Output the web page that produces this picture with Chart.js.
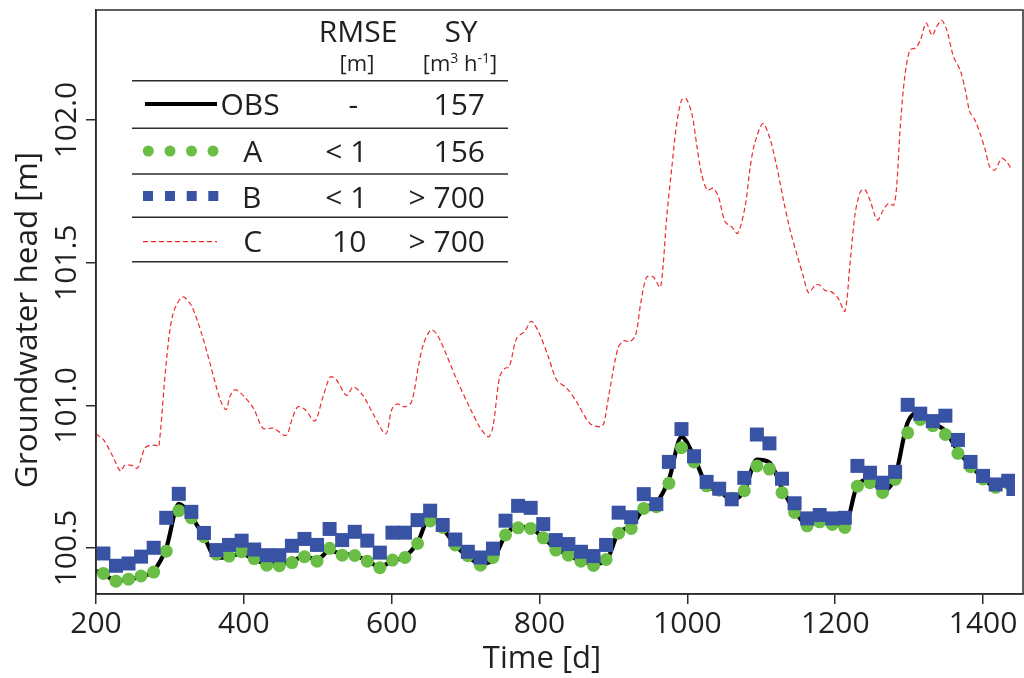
<!DOCTYPE html>
<html><head><meta charset="utf-8">
<script src="https://cdn.jsdelivr.net/npm/chart.js@4.4.1/dist/chart.umd.min.js"></script>
<style>html,body{margin:0;padding:0;background:#fff;overflow:hidden;}canvas{display:block;}</style>
</head><body>
<canvas id="c" width="1024" height="678"></canvas>
<script>
const FONT = '"Open Sans", "Liberation Sans", sans-serif';
const TEXT = '#231f20';

const xTicks = [200, 400, 600, 800, 1000, 1200, 1400];
const yTicks = [100.5, 101.0, 101.5, 102.0];

const markerDays = [210,227,244,261,278,295,312,329,346,363,380,397,414,431,448,465,482,499,516,533,550,567,584,601,618,635,652,669,686,703,720,737,754,771,788,805,822,839,856,873,890,907,924,941,958,975,992,1009,1026,1043,1060,1077,1094,1111,1128,1145,1162,1179,1196,1213,1230,1247,1264,1281,1298,1315,1332,1349,1366,1383,1400,1417,1434,1441];

const seriesA = [100.411,100.384,100.391,100.402,100.416,100.489,100.631,100.606,100.540,100.479,
100.472,100.487,100.463,100.440,100.438,100.449,100.470,100.454,100.499,100.475,
100.474,100.454,100.431,100.458,100.467,100.516,100.595,100.572,100.511,100.473,
100.440,100.467,100.546,100.571,100.569,100.536,100.493,100.475,100.454,100.439,
100.460,100.552,100.569,100.639,100.645,100.727,100.852,100.802,100.718,100.703,
100.675,100.701,100.788,100.777,100.694,100.625,100.578,100.592,100.583,100.572,
100.717,100.729,100.695,100.741,100.904,100.951,100.929,100.898,100.832,100.785,
100.742,100.713,100.727,100.710];

const seriesB = [100.481,100.438,100.446,100.470,100.501,100.606,100.690,100.627,100.553,100.493,
100.511,100.526,100.495,100.475,100.475,100.508,100.532,100.511,100.567,100.528,
100.557,100.526,100.484,100.554,100.554,100.598,100.631,100.581,100.530,100.487,
100.467,100.498,100.596,100.648,100.641,100.584,100.528,100.514,100.487,100.472,
100.511,100.624,100.608,100.689,100.654,100.802,100.917,100.822,100.732,100.708,
100.671,100.746,100.898,100.867,100.743,100.657,100.604,100.616,100.604,100.606,
100.788,100.764,100.729,100.767,101.002,100.971,100.945,100.964,100.879,100.802,
100.753,100.723,100.736,100.707];

const obsDays = [200,210,227,244,261,278,295,312,329,346,363,380,397,414,431,448,465,482,499,516,533,550,567,584,601,618,635,652,669,686,703,720,737,754,771,788,805,822,839,856,873,890,907,924,941,958,975,992,1009,1026,1043,1060,1077,1094,1111,1128,1145,1162,1179,1196,1213,1230,1247,1264,1281,1298,1315,1332,1349,1366,1383,1400,1417,1434,1441];

const obsValues = [100.42,100.41,100.385,100.39,100.40,100.42,100.50,100.655,100.61,100.54,100.465,
100.47,100.48,100.46,100.445,100.445,100.455,100.47,100.46,100.49,100.48,
100.475,100.455,100.435,100.455,100.47,100.52,100.61,100.57,100.51,100.47,
100.445,100.46,100.545,100.575,100.57,100.535,100.50,100.475,100.455,100.445,
100.455,100.555,100.575,100.64,100.66,100.74,100.89,100.82,100.72,100.70,
100.67,100.70,100.81,100.80,100.71,100.63,100.585,100.59,100.585,100.58,
100.72,100.74,100.70,100.75,100.94,100.975,100.94,100.91,100.84,100.79,
100.745,100.715,100.725,100.71];

const cDays = [200,210,223,233,239,248,256,266,273,281,285,295,304,317,329,343,354,368,376,381,388,399,413,426,440,457,465,473,483,496,507,517,525,539,548,561,575,592,600,607,618,627,636,643,653,661,672,688,706,719,731,737,746,753,759,769,780,789,800,812,823,837,850,868,882,887,894,906,914,922,930,937,945,954,963,967,972,979,985,992,998,1006,1013,1019,1027,1035,1042,1051,1060,1068,1078,1085,1091,1102,1111,1121,1130,1139,1149,1157,1164,1173,1179,1186,1195,1204,1213,1220,1227,1234,1240,1247,1257,1265,1272,1279,1283,1288,1294,1301,1309,1315,1323,1331,1337,1344,1351,1360,1369,1376,1382,1389,1396,1403,1409,1416,1425,1432,1439];

const cValues = [100.90,100.88,100.82,100.77,100.79,100.79,100.78,100.85,100.86,100.86,
100.855,101.15,101.32,101.38,101.35,101.25,101.15,101.02,100.985,101.03,
101.055,101.035,100.99,100.92,100.92,100.895,100.95,100.995,100.985,100.945,
101.03,101.10,101.09,101.035,101.065,101.035,100.97,100.90,100.985,101.005,
100.995,101.013,101.135,101.215,101.265,101.25,101.19,101.09,100.99,100.925,
100.89,100.925,101.10,101.13,101.135,101.235,101.26,101.295,101.25,101.17,
101.09,101.06,101.013,100.937,100.925,100.937,101.04,101.20,101.227,101.223,
101.247,101.36,101.45,101.45,101.414,101.486,101.66,101.836,101.977,102.07,
102.076,102.023,101.907,101.813,101.755,101.761,101.731,101.644,101.626,101.603,
101.696,101.836,101.918,101.988,101.941,101.836,101.719,101.614,101.521,101.451,
101.395,101.422,101.422,101.404,101.398,101.375,101.33,101.498,101.673,101.749,
101.757,101.719,101.65,101.685,101.708,101.702,101.766,101.977,102.151,102.245,
102.254,102.279,102.34,102.297,102.326,102.35,102.315,102.222,102.175,102.105,
102.029,102.0,101.953,101.895,101.836,101.825,101.866,101.854,101.825];

const legendNames = ['OBS', 'A', 'B', 'C'];
const legendRMSE = ['-', '< 1', '< 1', '10'];
const legendSY = ['157', '156', '> 700', '> 700'];

const COL_A = '#6abd45', COL_B = '#3953a4', COL_C = '#ee2a2f', COL_OBS = '#000000';

function pts(xs, ys) { return xs.map((x, i) => ({ x: x, y: ys[i] })); }
const clip = { left: 10, top: 10, right: -8, bottom: 10 };

function zeroPad(s) { s.paddingLeft = 0; s.paddingRight = 0; s.paddingTop = 0; s.paddingBottom = 0; }

const deco = {
  id: 'deco',
  afterDraw(chart) {
    const ctx = chart.ctx, a = chart.chartArea;
    ctx.save();
    ctx.strokeStyle = '#2b2b2b';
    ctx.lineWidth = 1.5;
    ctx.strokeRect(a.left, a.top, a.right - a.left, a.bottom - a.top);

    [80.7, 128.3, 174, 217.3, 261.7].forEach(y => {
      ctx.beginPath(); ctx.moveTo(132, y); ctx.lineTo(508, y); ctx.stroke();
    });

    ctx.fillStyle = TEXT;
    ctx.textBaseline = 'alphabetic';
    ctx.textAlign = 'center';
    ctx.font = '30px ' + FONT;
    ctx.fillText('RMSE', 358, 42);
    ctx.fillText('SY', 461, 42);
    ctx.font = '22px ' + FONT;
    ctx.fillText('[m]', 357, 71);
    const parts = [['[m', 22, 0], ['3', 14, -8], [' h', 22, 0], ['-1', 14, -8], [']', 22, 0]];
    let tw = 0;
    parts.forEach(p => { ctx.font = p[1] + 'px ' + FONT; tw += ctx.measureText(p[0]).width; });
    let px = 460 - tw / 2;
    ctx.textAlign = 'left';
    parts.forEach(p => { ctx.font = p[1] + 'px ' + FONT; ctx.fillText(p[0], px, 71 + p[2]); px += ctx.measureText(p[0]).width; });

    const rowY = [104, 151, 196, 241.7];
    const baseY = [115, 162, 207.5, 251.5];
    ctx.strokeStyle = COL_OBS; ctx.lineWidth = 4;
    ctx.beginPath(); ctx.moveTo(145, rowY[0]); ctx.lineTo(217, rowY[0]); ctx.stroke();
    ctx.fillStyle = COL_A;
    [148.3, 170, 191.5, 213].forEach(x => { ctx.beginPath(); ctx.arc(x, rowY[1], 5.5, 0, Math.PI * 2); ctx.fill(); });
    ctx.fillStyle = COL_B;
    [148, 170, 191.7, 213.3].forEach(x => { ctx.fillRect(x - 5, rowY[2] - 5, 10, 10); });
    ctx.strokeStyle = COL_C; ctx.lineWidth = 1.2; ctx.setLineDash([5, 3]);
    ctx.beginPath(); ctx.moveTo(143, rowY[3]); ctx.lineTo(217, rowY[3]); ctx.stroke();
    ctx.setLineDash([]);

    ctx.fillStyle = TEXT;
    ctx.font = '30px ' + FONT;
    ctx.textAlign = 'center';
    const nameX = [250, 252.7, 251.7, 252.7];
    const rmseX = [353.3, 346.3, 346.3, 349.2];
    legendNames.forEach((n, i) => ctx.fillText(n, nameX[i], baseY[i]));
    legendRMSE.forEach((n, i) => ctx.fillText(n, rmseX[i], baseY[i]));
    ctx.textAlign = 'right';
    legendSY.forEach((n, i) => ctx.fillText(n, 485, baseY[i]));

    ctx.textAlign = 'center';
    ctx.font = '31px ' + FONT;
    ctx.fillText('Time [d]', 542, 668);
    ctx.translate(37, 320);
    ctx.rotate(-Math.PI / 2);
    ctx.font = '31.5px ' + FONT;
    ctx.fillText('Groundwater head [m]', 0, 0);
    ctx.restore();
  }
};

new Chart(document.getElementById('c'), {
  type: 'line',
  data: {
    datasets: [
      { label: 'B', data: pts(markerDays, seriesB), order: 0, showLine: false, pointStyle: 'rect',
        pointRadius: 9.9, pointBackgroundColor: COL_B, pointBorderWidth: 0, backgroundColor: COL_B, clip: clip },
      { label: 'A', data: pts(markerDays, seriesA), order: 1, showLine: false, pointStyle: 'circle',
        pointRadius: 6.5, pointBackgroundColor: COL_A, pointBorderWidth: 0, backgroundColor: COL_A, clip: clip },
      { label: 'OBS', data: pts(obsDays, obsValues), order: 2, borderColor: COL_OBS, borderWidth: 4.2,
        pointRadius: 0, cubicInterpolationMode: 'monotone', clip: clip },
      { label: 'C', data: pts(cDays, cValues), order: 3, borderColor: COL_C, borderWidth: 1.2,
        borderDash: [5, 3], pointRadius: 0, tension: 0.3, clip: clip }
    ]
  },
  options: {
    responsive: false,
    animation: false,
    events: [],
    layout: { autoPadding: false, padding: { left: 0, right: 1, top: 10, bottom: 0 } },
    plugins: { legend: { display: false }, tooltip: { enabled: false } },
    scales: {
      x: {
        type: 'linear', min: 200, max: 1454,
        afterBuildTicks: s => { s.ticks = xTicks.map(v => ({ value: v })); },
        afterFit: s => { s.height = 84; zeroPad(s); },
        grid: { display: true, drawOnChartArea: false, drawTicks: true, tickLength: 10, color: '#2b2b2b', lineWidth: 1.5 },
        border: { display: true, color: '#2b2b2b', width: 1.5 },
        ticks: { font: { family: FONT, size: 30 }, color: TEXT, padding: 2, maxRotation: 0, autoSkip: false,
          callback: v => String(v) }
      },
      y: {
        type: 'linear', min: 100.339, max: 102.386,
        afterBuildTicks: s => { s.ticks = yTicks.map(v => ({ value: v })); },
        afterFit: s => { s.width = 96; zeroPad(s); },
        grid: { display: true, drawOnChartArea: false, drawTicks: true, tickLength: 10, color: '#2b2b2b', lineWidth: 1.5 },
        border: { display: true, color: '#2b2b2b', width: 1.5 },
        ticks: { font: { family: FONT, size: 30 }, color: TEXT, padding: -20, minRotation: 90, maxRotation: 90,
          crossAlign: 'center', autoSkip: false, callback: v => Number(v).toFixed(1) }
      }
    }
  },
  plugins: [deco]
});
</script>
</body></html>
